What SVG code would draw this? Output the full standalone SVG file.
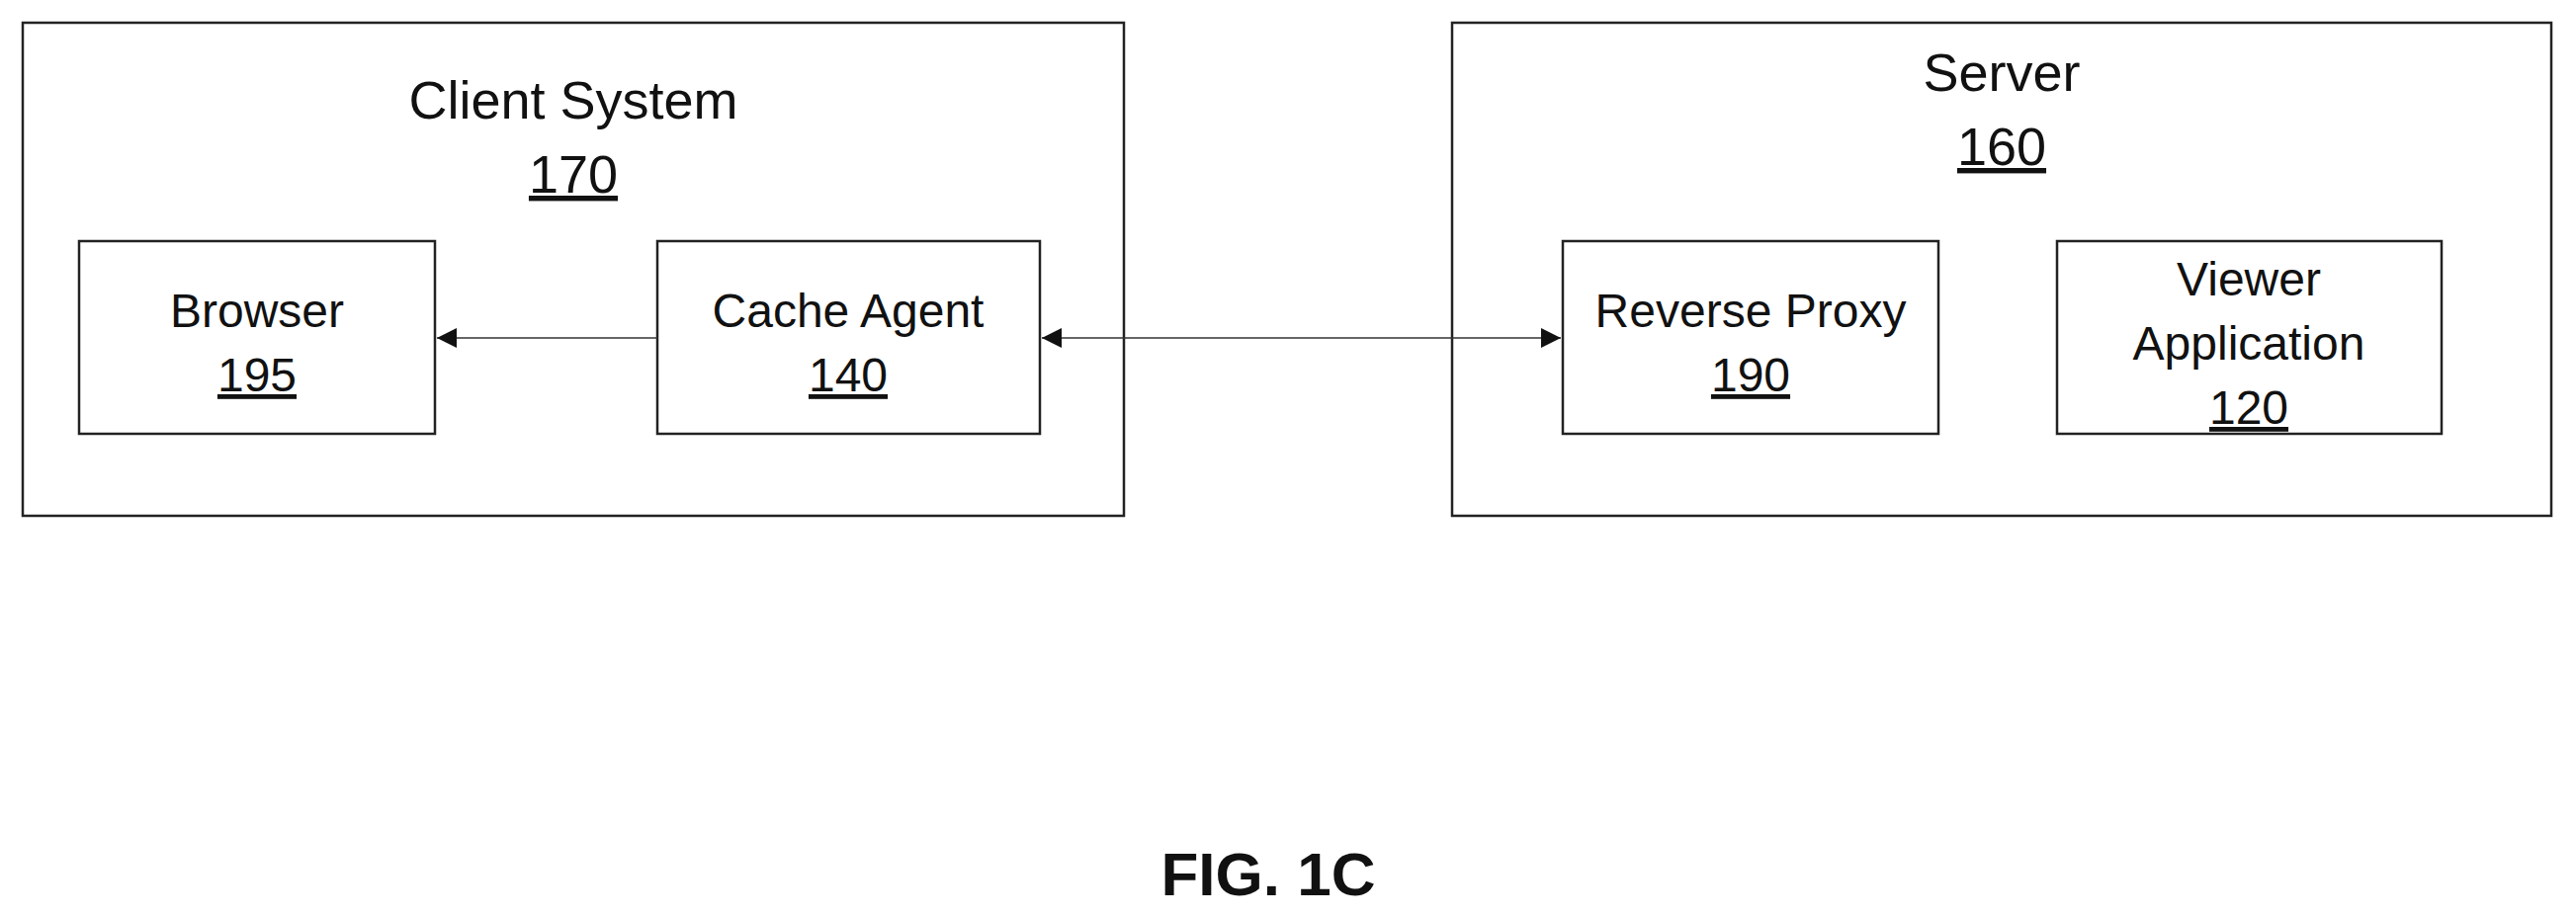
<svg xmlns="http://www.w3.org/2000/svg" width="2606" height="927" viewBox="0 0 2606 927">
<style>
rect{fill:#fff;stroke:#222;stroke-width:2.5}
text{font-family:"Liberation Sans",Arial,sans-serif;fill:#111;text-anchor:middle}
.t{font-size:54px}
.b{font-size:48px}
.n{text-decoration:underline}
.c{stroke:#333;stroke-width:1.5;fill:none}
</style>
<defs><marker id="a" viewBox="0 0 10 10" refX="10" refY="5" markerWidth="28" markerHeight="20" markerUnits="userSpaceOnUse" orient="auto-start-reverse"><path d="M0,0L10,5L0,10z" fill="#111"/></marker></defs>
<rect x="0" y="0" width="2606" height="927" style="stroke:none"/>
<g id="client"><rect x="23" y="23" width="1114" height="499"/><text class="t" x="580" y="120">Client System</text><text class="t n" x="580" y="195">170</text></g>
<g id="server"><rect x="1469" y="23" width="1112" height="499"/><text class="t" x="2025" y="92">Server</text><text class="t n" x="2025" y="167">160</text></g>
<g id="browser"><rect x="80" y="244" width="360" height="195"/><text class="b" x="260" y="331">Browser</text><text class="b n" x="260" y="396">195</text></g>
<g id="cache"><rect x="665" y="244" width="387" height="195"/><text class="b" x="858" y="331">Cache Agent</text><text class="b n" x="858" y="396">140</text></g>
<g id="proxy"><rect x="1581" y="244" width="380" height="195"/><text class="b" x="1771" y="331">Reverse Proxy</text><text class="b n" x="1771" y="396">190</text></g>
<g id="viewer"><rect x="2081" y="244" width="389" height="195"/><text class="b" x="2275" y="299">Viewer</text><text class="b" x="2275" y="364">Application</text><text class="b n" x="2275" y="429">120</text></g>
<g id="connectors"><path class="c" d="M665,342H442" marker-end="url(#a)"/><path class="c" d="M1054,342H1579" marker-start="url(#a)" marker-end="url(#a)"/></g>
<text x="1283" y="906" style="font-size:62px;font-weight:bold">FIG. 1C</text>
</svg>
